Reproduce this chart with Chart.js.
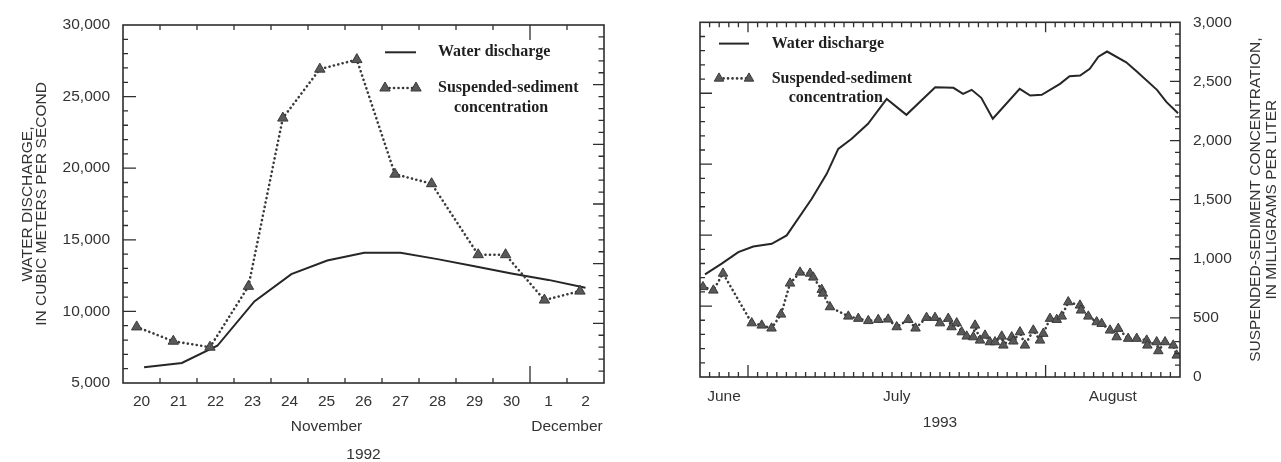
<!DOCTYPE html>
<html>
<head>
<meta charset="utf-8">
<script src="https://cdn.jsdelivr.net/npm/chart.js@4/dist/chart.umd.min.js"></script>
<style>
  html, body { margin: 0; padding: 0; background: #fff; }
  #wrap { position: relative; width: 1281px; height: 462px; overflow: hidden; background: #fff; }
  #c92 { position: absolute; left: 0; top: 0; width: 640px; height: 462px; }
  #c93 { position: absolute; left: 640px; top: 0; width: 641px; height: 462px; }
</style>
</head>
<body>
<div id="wrap">
  <canvas id="c92" width="640" height="462"></canvas>
  <canvas id="c93" width="641" height="462"></canvas>
</div>
<script>
// ---- November–December 1992 event (x = days after 00:00, November 20) ----
const dayLabels92 = ['20', '21', '22', '23', '24', '25', '26', '27', '28', '29', '30', '1', '2'];
const monthNames92 = ['November', 'December'];
const monthBounds92 = [0, 11, 13];
const dischargeDays92 = [0.57, 1.59, 2.55, 3.55, 4.55, 5.52, 6.52, 7.5, 8.5, 9.5, 10.5, 11.5, 12.5];
const discharge92 = [6100, 6400, 7600, 10700, 12600, 13550, 14100, 14100, 13650, 13150, 12650, 12200, 11650];
const sedimentDays92 = [0.37, 1.36, 2.35, 3.39, 4.32, 5.32, 6.32, 7.35, 8.34, 9.6, 10.34, 11.39, 12.35];
const sediment92 = [470, 350, 300, 810, 2220, 2630, 2710, 1750, 1670, 1075, 1075, 695, 770];

// ---- June–August 1993 event (x = days after 00:00, June 26) ----
const monthNames93 = ['June', 'July', 'August'];
const monthBounds93 = [0, 5, 36, 50];
const dischargeDays93 = [0.52, 2.26, 3.99, 5.55, 7.47, 9.03, 11.64, 13.2, 14.4, 15.8, 17.5, 19.45, 21.5,
  24.5, 26.4, 27.4, 28.3, 29.3, 30.5, 33.3, 34.4, 35.6, 37.5, 38.5, 39.6, 40.6, 41.5, 42.4, 44.4,
  45.5, 47.6, 48.6, 49.8];
const discharge93 = [12230, 12990, 13800, 14200, 14390, 14980, 17560, 19320, 21080, 21790, 22850, 24600, 23480,
  25420, 25380, 24960, 25240, 24680, 23200, 25310, 24840, 24890, 25660, 26200, 26250, 26720, 27580, 27940, 27180,
  26530, 25240, 24370, 23590];
const sedimentDays93 = [0.31, 1.39, 2.4, 5.39, 6.43, 7.45, 8.44, 9.38, 10.42, 11.46, 11.8, 12.68, 12.8, 13.54,
  15.45, 16.49, 17.53, 18.57, 19.6, 20.49, 21.7, 22.45, 23.6, 24.48, 25.0, 25.86, 26.2, 26.74, 27.26, 27.78,
  28.47, 28.65, 29.17, 29.69, 30.2, 30.73, 31.43, 31.6, 32.47, 32.64, 33.33, 33.85, 34.72, 35.42, 35.76, 36.46,
  37.16, 37.68, 38.36, 39.58, 39.69, 40.45, 41.32, 41.84, 42.71, 43.4, 43.57, 44.6, 45.49, 46.53, 46.6, 47.57,
  47.74, 48.44, 49.3, 49.66];
const sediment93 = [762, 733, 876, 456, 437, 412, 530, 792, 885, 876, 843, 739, 707, 592,
  513, 494, 475, 485, 488, 423, 485, 412, 502, 502, 456, 494, 423, 456, 380, 344,
  338, 437, 310, 352, 296, 296, 344, 268, 338, 302, 380, 268, 395, 310, 367, 494,
  485, 513, 634, 606, 564, 513, 465, 451, 395, 338, 409, 325, 325, 310, 268, 296,
  220, 296, 268, 183];

const seriesNames = [['Water discharge'], ['Suspended-sediment', 'concentration']];
const dischargeTitle = ['WATER DISCHARGE,', 'IN CUBIC METERS PER SECOND'];
const sedimentTitle = ['SUSPENDED-SEDIMENT CONCENTRATION,', 'IN MILLIGRAMS PER LITER'];

// ---- shared styling ----
const SANS = '"Liberation Sans", Arial, Helvetica, sans-serif';
const SERIF = '"Liberation Serif", "Times New Roman", serif';
const INK = '#333333';
const FS = 15.5;
Chart.defaults.font.family = SANS;
Chart.defaults.font.size = FS;
Chart.defaults.color = INK;

const pts = (xs, ys) => xs.map((x, i) => ({ x, y: ys[i] }));
const steps = (from, to, step) => { const out = []; for (let v = from; v <= to + 1e-9; v += step) out.push(v); return out; };
const mids = b => b.slice(0, -1).map((v, i) => (v + b[i + 1]) / 2);

function makeDatasets(dDays, d, sDays, s, r) {
  return [
    {
      label: seriesNames[0].join(' '), data: pts(dDays, d), xAxisID: 'x', yAxisID: 'y',
      borderColor: '#262626', borderWidth: 2, pointRadius: 0, tension: 0, fill: false, order: 2
    },
    {
      label: seriesNames[1].join(' '), data: pts(sDays, s), xAxisID: 'x', yAxisID: 'y2',
      borderColor: '#3a3a3a', borderWidth: 2.6, borderDash: [0.1, 4.4], borderCapStyle: 'round',
      pointStyle: 'triangle', pointRadius: r, pointBackgroundColor: '#595959',
      pointBorderColor: '#3a3a3a', pointBorderWidth: 1, tension: 0, fill: false, order: 1
    }
  ];
}

// inward tick marks along the four sides of the plot frame
function makeFrameTicks(sets) {
  return {
    id: 'frameTicks',
    afterDraw(chart) {
      const { ctx, chartArea: a } = chart;
      ctx.save();
      ctx.strokeStyle = '#2e2e2e';
      ctx.lineWidth = 1.3;
      ctx.setLineDash([]);
      ctx.beginPath();
      for (const set of sets) {
        const sc = chart.scales[set.scale];
        const e = set.edges;
        for (const v of set.values) {
          const p = sc.getPixelForValue(v);
          if (e.bottom) { ctx.moveTo(p, a.bottom); ctx.lineTo(p, a.bottom - e.bottom); }
          if (e.top) { ctx.moveTo(p, a.top); ctx.lineTo(p, a.top + e.top); }
          if (e.left) { ctx.moveTo(a.left, p); ctx.lineTo(a.left + e.left, p); }
          if (e.right) { ctx.moveTo(a.right, p); ctx.lineTo(a.right - e.right, p); }
        }
      }
      ctx.stroke();
      ctx.lineWidth = 1.6;
      ctx.strokeRect(a.left, a.top, a.right - a.left, a.bottom - a.top);
      ctx.restore();
    }
  };
}

// legend drawn inside the plot area
function makeInsetLegend(o) {
  return {
    id: 'insetLegend',
    afterDraw(chart) {
      const { ctx, chartArea: a } = chart;
      ctx.save();
      chart.data.datasets.forEach((ds, i) => {
        const y = a.top + o.y + i * o.rowGap;
        const x1 = a.left + o.x, x2 = x1 + o.sampleWidth;
        ctx.strokeStyle = ds.borderColor;
        ctx.lineWidth = ds.borderWidth;
        ctx.lineCap = ds.borderCapStyle || 'butt';
        ctx.setLineDash(ds.borderDash || []);
        ctx.beginPath(); ctx.moveTo(x1, y); ctx.lineTo(x2, y); ctx.stroke();
        ctx.setLineDash([]);
        ctx.lineCap = 'butt';
        if (ds.pointRadius) {
          for (const px of [x1, x2]) {
            ctx.fillStyle = ds.pointBackgroundColor;
            ctx.strokeStyle = ds.pointBorderColor;
            ctx.lineWidth = ds.pointBorderWidth;
            Chart.helpers.drawPoint(ctx, { pointStyle: ds.pointStyle, radius: ds.pointRadius, borderWidth: ds.pointBorderWidth, rotation: 0 }, px, y);
          }
        }
        ctx.fillStyle = '#1f1f1f';
        ctx.font = 'bold 16px ' + SERIF;
        ctx.textAlign = 'left';
        ctx.textBaseline = 'middle';
        seriesNames[i].forEach((t, j) => ctx.fillText(t, a.left + o.textX + (j ? o.indent : 0), y + j * o.lineGap));
      });
      ctx.restore();
    }
  };
}

// right-hand axis title, read bottom to top
function makeSideTitle(lines, offset, gap) {
  return {
    id: 'sideTitle',
    afterDraw(chart) {
      const { ctx, chartArea: a } = chart;
      const cy = (a.top + a.bottom) / 2;
      ctx.save();
      ctx.fillStyle = INK;
      ctx.font = FS + 'px ' + SANS;
      ctx.textAlign = 'center';
      ctx.textBaseline = 'middle';
      lines.forEach((t, i) => {
        ctx.save();
        ctx.translate(a.right + offset + i * gap, cy);
        ctx.rotate(-Math.PI / 2);
        ctx.fillText(t, 0, 0);
        ctx.restore();
      });
      ctx.restore();
    }
  };
}

const noGrid = { display: false, drawTicks: false, tickLength: 0 };
const noBorder = { display: false };

// ---------------- 1992 panel ----------------
new Chart(document.getElementById('c92'), {
  type: 'line',
  data: { datasets: makeDatasets(dischargeDays92, discharge92, sedimentDays92, sediment92, 6) },
  options: {
    responsive: false, animation: false, events: [],
    layout: { padding: { left: 0, top: 25, right: 36, bottom: 0 } },
    plugins: { legend: { display: false }, tooltip: { enabled: false } },
    scales: {
      x: {
        type: 'linear', position: 'bottom', weight: 1, min: 0, max: 13,
        grid: noGrid, border: noBorder,
        afterBuildTicks: s => { s.ticks = dayLabels92.map((_, i) => ({ value: i + 0.5 })); },
        ticks: { autoSkip: false, maxRotation: 0, padding: 9.4, callback: (v, i) => dayLabels92[i] },
        afterFit: s => { s.height = 30; }
      },
      xm: {
        type: 'linear', position: 'bottom', weight: 2, min: 0, max: 13,
        grid: noGrid, border: noBorder,
        afterBuildTicks: s => { s.ticks = mids(monthBounds92).map(v => ({ value: v })); },
        ticks: { autoSkip: false, maxRotation: 0, padding: 4.7, callback: (v, i) => monthNames92[i] },
        title: { display: true, text: '1992', padding: { top: 0, bottom: 0 }, font: { size: FS, lineHeight: 1 } },
        afterFit: s => { s.height = 49; }
      },
      y: {
        type: 'linear', position: 'left', min: 5000, max: 30000,
        grid: noGrid, border: noBorder,
        ticks: { stepSize: 5000, padding: 13 },
        title: { display: true, text: dischargeTitle, padding: { top: 20.5, bottom: 0 }, font: { size: FS, lineHeight: 0.9 } },
        afterFit: s => { s.width = 123; }
      },
      y2: { type: 'linear', position: 'right', display: false, min: 0, max: 3000 }
    }
  },
  plugins: [
    makeFrameTicks([
      { scale: 'x', values: steps(1, 12, 1).filter(v => !monthBounds92.includes(v)), edges: { bottom: 5, top: 5 } },
      { scale: 'x', values: monthBounds92.slice(1, -1), edges: { bottom: 17, top: 15 } },
      { scale: 'y', values: steps(6000, 29000, 1000).filter(v => v % 5000), edges: { left: 5 } },
      { scale: 'y', values: steps(10000, 25000, 5000), edges: { left: 13 } },
      { scale: 'y2', values: steps(100, 2900, 100).filter(v => v % 500), edges: { right: 5.5 } },
      { scale: 'y2', values: steps(500, 2500, 500), edges: { right: 11 } }
    ]),
    makeInsetLegend({ x: 262, y: 27.3, sampleWidth: 31, textX: 315, rowGap: 35.7, lineGap: 20, indent: 16 })
  ]
});

// ---------------- 1993 panel ----------------
new Chart(document.getElementById('c93'), {
  type: 'line',
  data: { datasets: makeDatasets(dischargeDays93, discharge93, sedimentDays93, sediment93, 5.5) },
  options: {
    responsive: false, animation: false, events: [],
    layout: { padding: { left: 60, top: 22, right: 0, bottom: 0 } },
    plugins: { legend: { display: false }, tooltip: { enabled: false } },
    scales: {
      x: {
        type: 'linear', position: 'bottom', min: 0, max: 50,
        grid: noGrid, border: noBorder,
        afterBuildTicks: s => { s.ticks = mids(monthBounds93).map(v => ({ value: v })); },
        ticks: { autoSkip: false, maxRotation: 0, padding: 10.4, callback: (v, i) => monthNames93[i] },
        title: { display: true, text: '1993', padding: { top: 0, bottom: 31.5 }, font: { size: FS, lineHeight: 1 } },
        afterFit: s => { s.height = 85; }
      },
      y: { type: 'linear', position: 'left', display: false, min: 5000, max: 30000 },
      y2: {
        type: 'linear', position: 'right', min: 0, max: 3000,
        grid: noGrid, border: noBorder,
        ticks: { stepSize: 500, padding: 13 },
        afterFit: s => { s.width = 101; }
      }
    }
  },
  plugins: [
    makeFrameTicks([
      { scale: 'x', values: steps(1, 49, 1).filter(v => !monthBounds93.includes(v)), edges: { bottom: 5, top: 5 } },
      { scale: 'x', values: monthBounds93.slice(1, -1), edges: { bottom: 12, top: 10 } },
      { scale: 'y', values: steps(6000, 29000, 1000).filter(v => v % 5000), edges: { left: 5 } },
      { scale: 'y', values: steps(10000, 25000, 5000), edges: { left: 12 } },
      { scale: 'y2', values: steps(100, 2900, 100).filter(v => v % 500), edges: { right: 5 } },
      { scale: 'y2', values: steps(500, 2500, 500), edges: { right: 10 } }
    ]),
    makeInsetLegend({ x: 19, y: 21.3, sampleWidth: 30, textX: 71.7, rowGap: 34.8, lineGap: 19.5, indent: 17 }),
    makeSideTitle(sedimentTitle, 76, 16)
  ]
});
</script>
</body>
</html>
